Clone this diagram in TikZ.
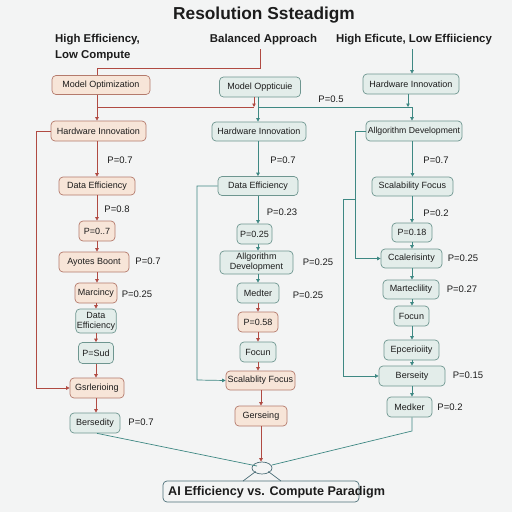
\documentclass[tikz,border=0pt]{standalone}
\usepackage{fontspec}
\setmainfont{Liberation Sans}
\usetikzlibrary{arrows.meta,shapes.geometric}
\definecolor{peachfill}{HTML}{F7E5D8}
\definecolor{peachdraw}{HTML}{B47A6C}
\definecolor{greenfill}{HTML}{E3EDEA}
\definecolor{greendraw}{HTML}{6E9690}
\definecolor{redline}{HTML}{B04A42}
\definecolor{tealline}{HTML}{3E8883}
\definecolor{txt}{HTML}{1C1C1C}
\definecolor{bg}{HTML}{F3F4F4}
\definecolor{hubdraw}{HTML}{4D6F78}
\begin{document}
\begin{tikzpicture}[x=1pt,y=-1pt,
 box/.style={rounded corners=4pt, line width=0.7pt, inner xsep=1pt, inner ysep=1pt, font=\fontsize{9}{10}\selectfont, text=txt, align=center},
 pbox/.style={box, fill=peachfill, draw=peachdraw},
 gbox/.style={box, fill=greenfill, draw=greendraw},
 rl/.style={draw=redline, line width=0.7pt},
 tl/.style={draw=tealline, line width=0.7pt},
 tip/.style={-{Triangle[length=3.5pt,width=3.5pt]}},
 plab/.style={font=\fontsize{9.5}{10}\selectfont, text=txt, inner sep=0pt},
 head/.style={font=\bfseries\fontsize{11.4}{16}\selectfont, text=txt, inner sep=0pt},
]
\useasboundingbox (0,0) rectangle (512,512);
\fill[bg] (0,0) rectangle (512,512);

% title and headings
\node[font=\bfseries\fontsize{17.3}{18}\selectfont, text=txt] (title) at (264,15) {Resolution Ssteadigm};
\node[head, anchor=west, align=left] (hleft) at (55,48) {High Efficiency,\\Low Compute};
\node[head] (hmid) at (263.5,40) {Balanced Approach};
\node[head] (hright) at (414,40) {High Eficute, Low Effiiciency};

% left column
\node[pbox, minimum width=98pt, minimum height=19pt] (lMO) at (101,85) {Model Optimization};
\node[pbox, minimum width=95pt, minimum height=20pt] (lHI) at (98.5,131) {Hardware Innovation};
\node[pbox, minimum width=76pt, minimum height=18pt] (lDE) at (97,186) {Data Efficiency};
\node[pbox, minimum width=36pt, minimum height=20pt] (lP7) at (97,231) {P=0..7};
\node[pbox, minimum width=70pt, minimum height=20pt] (lAB) at (94,262) {Ayotes Boont};
\node[pbox, minimum width=42pt, minimum height=20pt] (lMa) at (96,293) {Marcincy};
\node[gbox, minimum width=40pt, minimum height=24pt] (lDE2) at (96,321) {Data\\Efficiency};
\node[gbox, minimum width=35pt, minimum height=21pt] (lPS) at (96,353) {P=Sud};
\node[pbox, minimum width=54pt, minimum height=20pt] (lGs) at (97,388) {Gsrlerioing};
\node[gbox, minimum width=50pt, minimum height=20pt] (lBe) at (95,423) {Bersedity};

% middle column
\node[gbox, minimum width=81pt, minimum height=20pt] (mMO) at (260,87) {Model Oppticuie};
\node[gbox, minimum width=94pt, minimum height=19pt] (mHI) at (259,131.5) {Hardware Innovation};
\node[gbox, minimum width=80pt, minimum height=19pt] (mDE) at (258,186) {Data Efficiency};
\node[gbox, minimum width=35pt, minimum height=20pt] (mP25) at (254.5,234) {P=0.25};
\node[gbox, minimum width=73pt, minimum height=23pt] (mAD) at (256.5,262.5) {Allgorithm\\Development};
\node[gbox, minimum width=42pt, minimum height=20pt] (mMe) at (258,293) {Medter};
\node[pbox, minimum width=40pt, minimum height=20pt] (mP58) at (258,322) {P=0.58};
\node[gbox, minimum width=36pt, minimum height=20pt] (mFo) at (258,352) {Focun};
\node[pbox, minimum width=69pt, minimum height=19pt] (mSF) at (260.5,380.5) {Scalablity Focus};
\node[pbox, minimum width=52pt, minimum height=20pt] (mGe) at (261,416) {Gerseing};

% right column
\node[gbox, minimum width=96pt, minimum height=20pt] (rHI) at (411,84) {Hardware Innovation};
\node[gbox, minimum width=96pt, minimum height=20pt, font=\fontsize{8.7}{10}\selectfont] (rAD) at (414,131) {Allgorithm Development};
\node[gbox, minimum width=81pt, minimum height=19pt] (rSF) at (412.5,186.5) {Scalability Focus};
\node[gbox, minimum width=40pt, minimum height=19pt] (rP18) at (412,232.5) {P=0.18};
\node[gbox, minimum width=61pt, minimum height=19pt] (rCc) at (411.5,258.5) {Ccalerisinty};
\node[gbox, minimum width=56pt, minimum height=19pt] (rMa) at (411,289.5) {Marteclility};
\node[gbox, minimum width=35pt, minimum height=20pt] (rFo) at (411.5,316) {Focun};
\node[gbox, minimum width=55pt, minimum height=20pt] (rEp) at (411.5,350) {Epcerioiity};
\node[gbox, minimum width=66pt, minimum height=20pt] (rBe) at (412,376) {Berseity};
\node[gbox, minimum width=45pt, minimum height=20pt] (rMe) at (409.5,407) {Medker};

% hub and final
\node[ellipse, draw=hubdraw, line width=0.7pt, minimum width=20pt, minimum height=12pt, inner sep=0pt] (hub) at (262,468) {};
\node[draw=hubdraw, line width=0.7pt, rounded corners=4pt, minimum width=196pt, minimum height=21pt, inner sep=0pt] (finalbox) at (261,491.5) {};
\node[anchor=west, inner sep=0pt, font=\bfseries\fontsize{12.6}{14}\selectfont, text=txt] (finaltxt) at (168,492) {AI Efficiency vs. Compute Paradigm};

% probability labels
\node[plab] (pl1) at (120,160) {P=0.7};
\node[plab] (pl2) at (117,209) {P=0.8};
\node[plab] (pl3) at (148,261) {P=0.7};
\node[plab] (pl4) at (137,294) {P=0.25};
\node[plab] (pl5) at (141,422) {P=0.7};
\node[plab] (pm1) at (283,160) {P=0.7};
\node[plab] (pm2) at (282,212) {P=0.23};
\node[plab] (pm3) at (318,262) {P=0.25};
\node[plab] (pm4) at (308,295) {P=0.25};
\node[plab] (pr0) at (331,99) {P=0.5};
\node[plab] (pr1) at (436,160) {P=0.7};
\node[plab] (pr2) at (436,213) {P=0.2};
\node[plab] (pr3) at (463,258) {P=0.25};
\node[plab] (pr4) at (462,289) {P=0.27};
\node[plab] (pr5) at (468,375) {P=0.15};
\node[plab] (pr6) at (450,407) {P=0.2};

% coordinates
\coordinate (midtop) at (260,49);
\coordinate (midcorner) at (260,68);
\coordinate (leftcorner) at (97,68);
\coordinate (rtop) at (412,49);
\coordinate (lsplit) at (97,107);
\coordinate (redend) at (254,107);
\coordinate (msplit) at (258,107);
\coordinate (rsplit) at (412,107);
\coordinate (rarrow) at (408,107);
\coordinate (lloop1) at (36,131);
\coordinate (lloop2) at (36,388);
\coordinate (mloop1) at (197,186);
\coordinate (mloop2) at (197,380);
\coordinate (rloop1) at (355,131);
\coordinate (rloop2) at (355,258.5);
\coordinate (rbr) at (355,199);
\coordinate (rloop3) at (343,199);
\coordinate (rloop4) at (343,376);
\coordinate (rmebend) at (412,431);
\coordinate (hubL) at (257,466);
\coordinate (hubR) at (272,465);

% top connectors
\draw[rl] (midtop) -- (midcorner) -- (leftcorner) -- (lMO.north -| leftcorner);
\draw[tl, tip] (rtop) -- (rHI.north -| rtop);
\draw[rl, tip] (lMO.south -| lsplit) -- (lHI.north -| lsplit);
\draw[rl] (lsplit) -- (redend);
\draw[rl, tip] (mMO.south -| redend) -- (redend);
\draw[tl, tip] (mMO.south -| msplit) -- (mHI.north -| msplit);
\draw[tl] (msplit) -- (rsplit);
\draw[tl, tip] (rHI.south -| rarrow) -- (rarrow);
\draw[tl, tip] (rsplit) -- (rAD.north -| rsplit);

% left column chain
\draw[rl, tip] (lHI.south -| lDE) -- (lDE.north);
\draw[rl, tip] (lDE.south) -- (lP7.north);
\draw[rl, tip] (lP7.south) -- (lP7.south |- lAB.north);
\draw[rl, tip] (lP7.south |- lAB.south) -- (lP7.south |- lMa.north);
\draw[rl, tip] (lMa.south) -- (lDE2.north);
\draw[rl, tip] (lDE2.south) -- (lPS.north);
\draw[rl, tip] (lPS.south) -- (lPS.south |- lGs.north);
\draw[rl, tip] (lPS.south |- lGs.south) -- (lPS.south |- lBe.north);
\draw[rl, tip] (lHI.west) -- (lloop1) -- (lloop2) -- (lGs.west);

% middle column chain
\draw[tl, tip] (mHI.south -| mDE) -- (mDE.north);
\draw[tl, tip] (mDE.south) -- (mDE.south |- mP25.north);
\draw[tl, tip] (mDE.south |- mP25.south) -- (mDE.south |- mAD.north);
\draw[tl, tip] (mDE.south |- mAD.south) -- (mMe.north);
\draw[rl, tip] (mMe.south) -- (mP58.north);
\draw[rl, tip] (mP58.south) -- (mFo.north);
\draw[rl, tip] (mFo.south) -- (mFo.south |- mSF.north);
\draw[rl, tip] (mSF.south -| mGe) -- (mGe.north);
\draw[tl, tip] (mDE.west) -- (mloop1) -- (mloop2) -- (mSF.west);
\draw[rl, tip] (mGe.south) -- (mGe.south |- hub.north);

% right column chain
\draw[tl, tip] (rAD.south -| rSF) -- (rSF.north);
\draw[tl, tip] (rSF.south -| rP18) -- (rP18.north);
\draw[tl, tip] (rP18.south) -- (rP18.south |- rCc.north);
\draw[tl, tip] (rP18.south |- rCc.south) -- (rP18.south |- rMa.north);
\draw[tl, tip] (rP18.south |- rMa.south) -- (rP18.south |- rFo.north);
\draw[tl, tip] (rP18.south |- rFo.south) -- (rP18.south |- rEp.north);
\draw[tl, tip] (rP18.south |- rEp.south) -- (rP18.south |- rBe.north);
\draw[tl, tip] (rP18.south |- rBe.south) -- (rP18.south |- rMe.north);
\draw[tl, tip] (rAD.west) -- (rloop1) -- (rloop2) -- (rCc.west);
\draw[tl, tip] (rbr) -- (rloop3) -- (rloop4) -- (rBe.west);

% bottom convergence
\draw[tl] (lBe.south) ++(2,0) -- (hubL);
\draw[tl] (rP18.south |- rMe.south) -- (rmebend) -- (hubR);
\draw[draw=hubdraw, line width=0.7pt] (hub.south west) ++(1,-1) -- (243,481);
\draw[draw=hubdraw, line width=0.7pt] (hub.south east) ++(-1,-1) -- (281,481);
\end{tikzpicture}
\end{document}
